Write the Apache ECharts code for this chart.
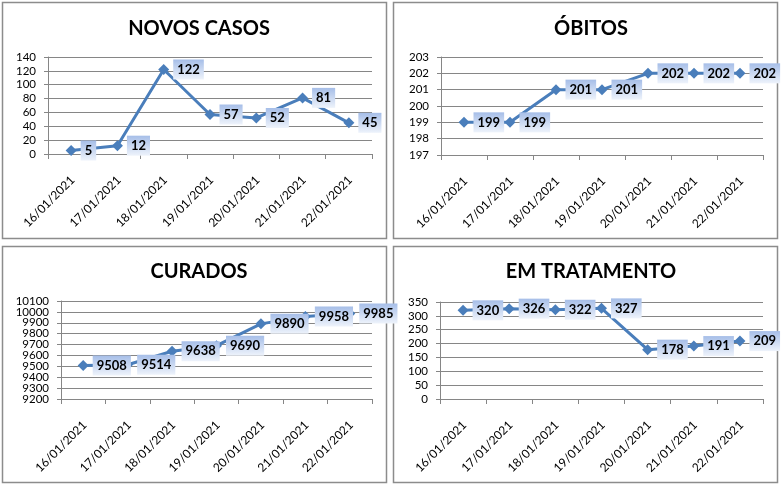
<!DOCTYPE html>
<html>
<head>
<meta charset="utf-8">
<script src="https://cdn.jsdelivr.net/npm/echarts@6/dist/echarts.min.js"></script>
<style>html,body{margin:0;padding:0;background:#fff}#c{width:782px;height:489px}</style>
</head>
<body>
<div id="c"></div>
<script>
const categories = ['16/01/2021','17/01/2021','18/01/2021','19/01/2021','20/01/2021','21/01/2021','22/01/2021'];
const novosCasos = [5, 12, 122, 57, 52, 81, 45];
const obitos = [199, 199, 201, 201, 202, 202, 202];
const curados = [9508, 9514, 9638, 9690, 9890, 9958, 9985];
const emTratamento = [320, 326, 322, 327, 178, 191, 209];
const titles = ['NOVOS CASOS', 'ÓBITOS', 'CURADOS', 'EM TRATAMENTO'];
const yRanges = [[0, 140, 20], [197, 203, 1], [9200, 10100, 100], [0, 350, 50]];
// tick labels of the CURADOS axis, split in two sets so that none is hidden
const curadosTicksEven = [9200, 9400, 9600, 9800, 10000];
const curadosTicksOdd = [9300, 9500, 9700, 9900, 10100];

const seriesData = [novosCasos, obitos, curados, emTratamento];
const grids = [
  {left: 48, top: 57, width: 324, height: 97},
  {left: 441, top: 57, width: 322, height: 98},
  {left: 61, top: 301, width: 311, height: 98},
  {left: 440, top: 302, width: 323, height: 97}
];
const titlePos = [[194, 14], [586, 14], [194, 257], [586, 257]];
const boxes = [[2, 2], [393, 2], [2, 246], [393, 246]];
const FONT = 'Lato, "Noto Sans", sans-serif';
const lineColor = '#4a7ebb';
const gridColor = '#868686';

const yLabelStyle = {fontFamily: FONT, fontSize: 11.5, color: '#000', margin: 12,
  showMinLabel: true, showMaxLabel: true, hideOverlap: false, formatter: v => String(v)};

const yAxes = yRanges.map((r, i) => ({
  type: 'value', gridIndex: i, min: r[0], max: r[1], interval: r[2],
  axisLine: {show: true, lineStyle: {color: gridColor, width: 1}},
  axisTick: {show: true, length: 4, lineStyle: {color: gridColor}},
  splitLine: {lineStyle: {color: gridColor, width: 1}},
  axisLabel: i === 2 ? Object.assign({}, yLabelStyle, {customValues: curadosTicksEven}) : yLabelStyle
}));
yAxes.push({
  type: 'value', gridIndex: 2, min: yRanges[2][0], max: yRanges[2][1], interval: yRanges[2][2],
  position: 'left',
  axisLine: {show: false}, axisTick: {show: false}, splitLine: {show: false},
  axisLabel: Object.assign({}, yLabelStyle, {customValues: curadosTicksOdd})
});

const chart = echarts.init(document.getElementById('c'), null, {renderer: 'canvas'});
const option = {
  animation: false,
  backgroundColor: '#fff',
  title: titles.map((t, i) => ({
    text: t, left: titlePos[i][0], top: titlePos[i][1], textAlign: 'center',
    textStyle: {fontFamily: FONT, fontWeight: 'bold', fontSize: 20, color: '#000'}
  })),
  graphic: boxes.map(b => ({
    type: 'rect', shape: {x: b[0] + 0.5, y: b[1] + 0.5, width: 384, height: 236},
    style: {fill: 'none', stroke: '#8c8c8c', lineWidth: 1.5}, z: -1
  })),
  grid: grids,
  xAxis: grids.map((g, i) => ({
    type: 'category', gridIndex: i, data: categories, boundaryGap: true,
    axisLine: {lineStyle: {color: gridColor, width: 1}},
    axisTick: {show: true, length: 5, lineStyle: {color: gridColor}},
    axisLabel: {interval: 0, rotate: 45, fontFamily: FONT, fontSize: 12, color: '#000',
      margin: 17, align: 'right', verticalAlign: 'top', padding: [0, 4, 0, 0]}
  })),
  yAxis: yAxes,
  series: seriesData.map((d, i) => ({
    type: 'line', xAxisIndex: i, yAxisIndex: i, data: d,
    symbol: 'diamond', symbolSize: 11, showAllSymbol: true,
    lineStyle: {color: lineColor, width: 3},
    itemStyle: {color: lineColor},
    label: {
      show: true, position: 'right', distance: 4,
      fontFamily: FONT, fontWeight: 'bold', fontSize: 13, color: '#000',
      padding: [4, 4, 3, 4],
      backgroundColor: {type: 'linear', x: 0, y: 0, x2: 0, y2: 1,
        colorStops: [{offset: 0, color: '#a6bee8'}, {offset: 1, color: '#eef3fb'}]}
    },
    z: 3
  }))
};
chart.setOption(option);
</script>
</body>
</html>
